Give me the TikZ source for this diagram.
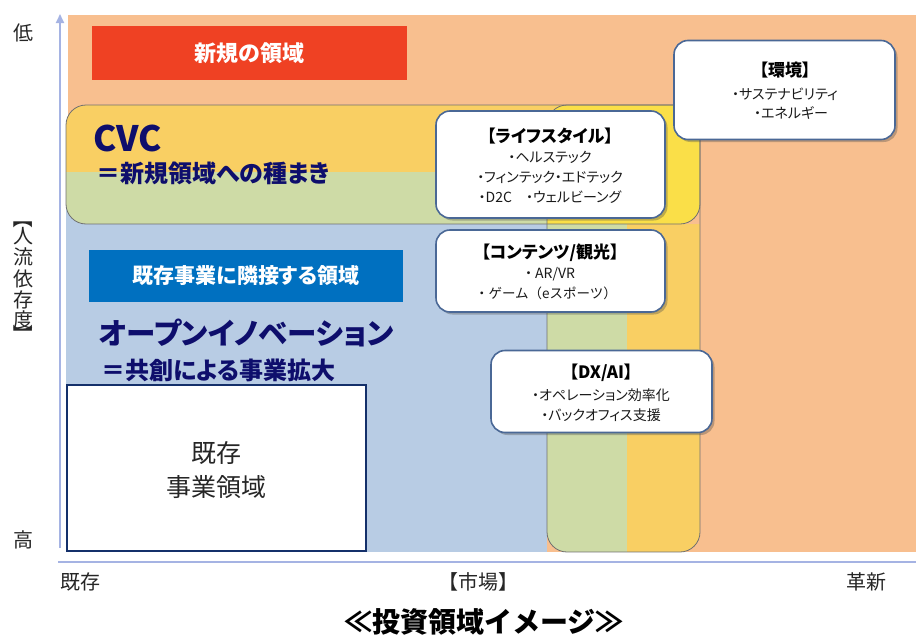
\documentclass[tikz,border=0pt]{standalone}
\usepackage{fontspec}
\setmainfont{Noto Sans CJK JP}
\newfontfamily\jpp{Noto Sans CJK JP}[RawFeature=+palt]
\usetikzlibrary{shadows,arrows.meta}
\definecolor{orangebg}{HTML}{F8BF8F}
\definecolor{bluebg}{HTML}{B8CCE4}
\definecolor{yellowbg}{HTML}{F9CF63}
\definecolor{greenbg}{HTML}{CEDBA6}
\definecolor{brightyel}{HTML}{FADF48}
\definecolor{redbox}{HTML}{EF4123}
\definecolor{bluebox}{HTML}{0070C0}
\definecolor{navytxt}{RGB}{14,14,108}
\definecolor{boxline}{RGB}{74,104,150}
\definecolor{axiscol}{HTML}{A5B3E3}
\definecolor{grayline}{HTML}{707070}
\definecolor{exline}{HTML}{14306A}
\tikzset{
  infobox/.style={draw=boxline, line width=1.6pt, fill=white, rounded corners=14pt,
    drop shadow={shadow xshift=2.5pt, shadow yshift=-2.5pt, opacity=0.35, fill=black!70}},
  boxtitle/.style={font=\jpp\bfseries\fontsize{17}{19}\selectfont, text=black, inner sep=0pt},
  boxitem/.style={font=\jpp\fontsize{14}{16}\selectfont, text=black!90, inner sep=0pt},
  bigtxt/.style={font=\jpp\bfseries, text=navytxt, inner sep=0pt, anchor=west},
  axlabel/.style={font=\fontsize{20}{22}\selectfont, text=black!85, inner sep=0pt},
  bandline/.style={draw=grayline, line width=0.8pt},
}
\begin{document}
\begin{tikzpicture}[x=1pt,y=-1pt]
\useasboundingbox (0,0) rectangle (916,637);
% background zones
\fill[orangebg] (68,15) rectangle (916,552);
\fill[bluebg] (66,190) rectangle (547,552);
% CVC band fill
\begin{scope}
  \clip[rounded corners=20pt] (66,105) rectangle (700,224);
  \fill[yellowbg] (66,105) rectangle (700,172);
  \fill[greenbg] (66,172) rectangle (700,224);
\end{scope}
% vertical band fill
\begin{scope}
  \clip[rounded corners=20pt] (547,105) rectangle (700,552);
  \fill[greenbg] (547,224) rectangle (627,552);
  \fill[yellowbg] (627,224) rectangle (700,552);
  \clip[rounded corners=20pt] (66,105) rectangle (700,224);
  \fill[brightyel] (547,105) rectangle (700,224);
\end{scope}
\draw[bandline, rounded corners=20pt] (66,105) rectangle (700,224);
\draw[bandline, rounded corners=20pt] (547,105) rectangle (700,552);
% axes
\coordinate (yb) at (60,548);
\coordinate (yt) at (60,14);
\coordinate (xl) at (58,562);
\coordinate (xr) at (916,562);
\draw[axiscol, line width=2pt, -{Triangle[length=9pt,width=8pt]}] (yb) -- (yt);
\draw[axiscol, line width=1.5pt] (xl) -- (xr);
% red box
\node[fill=redbox, minimum width=315pt, minimum height=54pt, inner sep=0pt,
  font=\jpp\bfseries\fontsize{22}{24}\selectfont, text=white] (newarea) at (249.5,53) {新規の領域};
% CVC
\node[bigtxt, font=\jpp\bfseries\fontsize{35}{37}\selectfont] (cvc) at (93,138) {CVC};
\node[bigtxt, font=\jpp\bfseries\fontsize{24}{26}\selectfont] (cvcsub) at (96,173) {＝新規領域への種まき};
% blue box
\node[fill=bluebox, minimum width=314pt, minimum height=52pt, inner sep=0pt,
  font=\jpp\bfseries\fontsize{21}{23}\selectfont, text=white] (adjacent) at (246,276) {既存事業に隣接する領域};
% open innovation
\node[bigtxt, font=\jpp\bfseries\fontsize{29.5}{31}\selectfont] (oi) at (99,333) {オープンイノベーション};
\node[bigtxt, font=\jpp\bfseries\fontsize{24}{26}\selectfont] (oisub) at (101,370) {＝共創による事業拡大};
% existing business box
\node[draw=exline, line width=2pt, fill=white, minimum width=299pt, minimum height=166pt, inner sep=0pt] (exist) at (216.5,468) {};
\node[font=\fontsize{25}{34}\selectfont, align=center, text=black!85] (existtxt) at (216.5,470) {既存\\事業領域};
% info boxes
\node[infobox, minimum width=221pt, minimum height=99pt] (env) at (784.5,90) {};
\node[boxtitle] (envt) at (785,70) {【環境】};
\node[boxitem] (env1) at (785,94) {・サステナビリティ};
\node[boxitem] (env2) at (791,113) {・エネルギー};

\node[infobox, minimum width=229pt, minimum height=107pt] (life) at (550.5,164.5) {};
\node[boxtitle] (lifet) at (550,136) {【ライフスタイル】};
\node[boxitem] (life1) at (550,157) {・ヘルステック};
\node[boxitem] (life2) at (550,177) {・フィンテック・エドテック};
\node[boxitem] (life3) at (550,197) {・D2C\hspace{1em}・ウェルビーング};

\node[infobox, minimum width=229pt, minimum height=82pt] (cont) at (550.5,271) {};
\node[boxtitle] (contt) at (550,253) {【コンテンツ/観光】};
\node[boxitem] (cont1) at (550,274) {・ AR/VR};
\node[boxitem, font=\fontsize{13.5}{16}\selectfont] (cont2) at (546,293) {・ゲーム（eスポーツ）};

\node[infobox, minimum width=221pt, minimum height=82pt] (dx) at (601.5,391.5) {};
\node[boxtitle] (dxt) at (601,373) {【DX/AI】};
\node[boxitem] (dx1) at (601,395) {・オペレーション効率化};
\node[boxitem] (dx2) at (601,415) {・バックオフィス支援};
% axis labels
\node[axlabel] (low) at (23,33) {低};
\node[axlabel] (high) at (23,540) {高};
\node[axlabel, rotate=-90] (vb1) at (23,218) {【};
\node[axlabel] (v1) at (23,236) {人};
\node[axlabel] (v2) at (23,257) {流};
\node[axlabel] (v3) at (23,279) {依};
\node[axlabel] (v4) at (23,300) {存};
\node[axlabel] (v5) at (23,320) {度};
\node[axlabel, rotate=-90] (vb2) at (23,334) {】};
\node[axlabel] (xlow) at (80,582) {既存};
\node[axlabel] (xmid) at (478,582) {【市場】};
\node[axlabel] (xhigh) at (866,582) {革新};
\node[font=\bfseries\fontsize{28}{30}\selectfont, inner sep=0pt] (title) at (484,622) {≪投資領域イメージ≫};
\end{tikzpicture}
\end{document}
